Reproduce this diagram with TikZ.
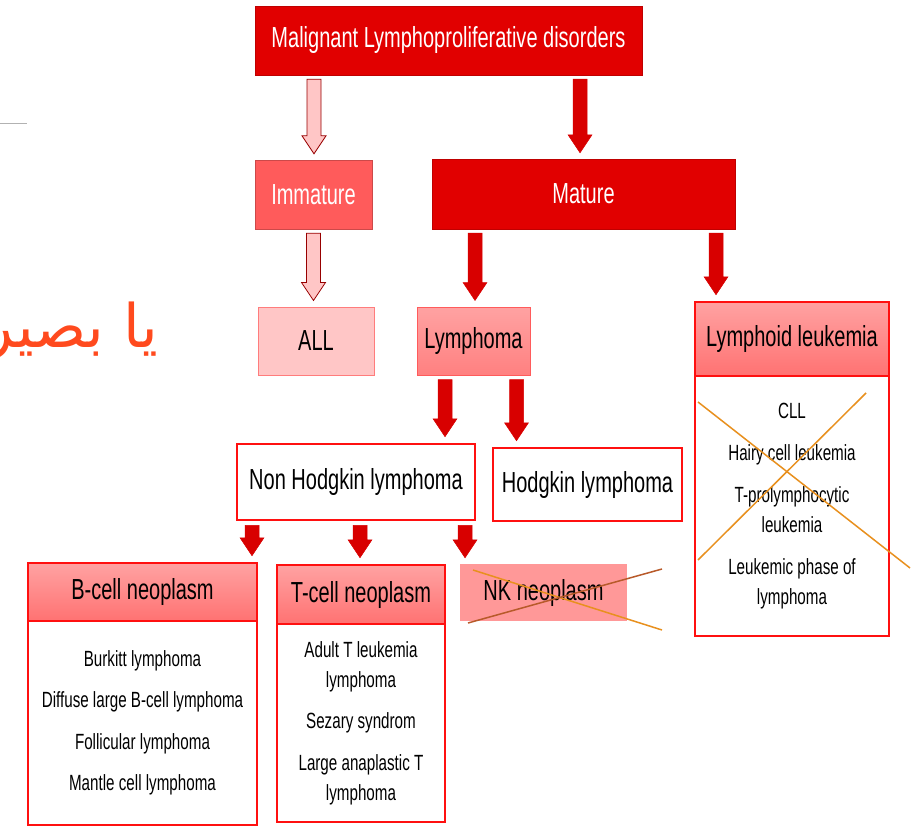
\documentclass[tikz,border=0pt]{standalone}
\usepackage{fontspec}
\setmainfont{Liberation Sans}[FakeStretch=0.69]
\newfontfamily\arabicfont[Script=Arabic]{DejaVu Sans}
\TeXXeTstate=1
\usepackage{tikz}
\usepackage{xcolor}
\usetikzlibrary{calc}

\definecolor{deepred}{HTML}{E10000}
\definecolor{arrred}{HTML}{D80000}
\definecolor{salmon}{HTML}{FF5B5B}
\definecolor{palepink}{HTML}{FFC6C6}
\definecolor{rosetop}{HTML}{FFA2A2}
\definecolor{rosebot}{HTML}{FF7272}
\definecolor{boxred}{HTML}{FF1010}
\definecolor{crossorange}{HTML}{E8901E}
\definecolor{crossbrown}{HTML}{B85A2A}
\definecolor{arorange}{HTML}{FF4A1E}

\begin{document}
\begin{tikzpicture}[x=1pt,y=-1pt,
  bigfont/.style={font=\fontsize{29}{34}\selectfont},
  smallfont/.style={font=\fontsize{22}{30}\selectfont},
  box/.style={rectangle,inner sep=0pt,bigfont},
  redbox/.style={box,fill=deepred,draw=deepred!85!black,text=white},
  outbox/.style={box,fill=white,draw=boxred,line width=2.5pt},
  headbox/.style={box,top color=rosetop,bottom color=rosebot,draw=boxred,line width=2.5pt},
  bodybox/.style={rectangle,inner sep=0pt,fill=white,draw=boxred,line width=2pt,align=center,smallfont},
  barr/.style={to path={let \p1=(\tikztostart), \p2=(\tikztotarget) in
    (\x1-7pt,\y1-4pt) -- (\x1+7pt,\y1-4pt) -- (\x1+7pt,\y2+24pt) -- (\x1+12pt,\y2+24pt)
    -- (\x1,\y2+6pt) -- (\x1-12pt,\y2+24pt) -- (\x1-7pt,\y2+24pt) -- cycle}},
  darkarr/.style={barr,fill=arrred,draw=arrred,line width=0.5pt},
  lightarr/.style={barr,fill=palepink,draw=arrred!70!black,line width=0.8pt},
  crossline/.style={line width=1.5pt}]
\useasboundingbox (0,0) rectangle (921,827);

% left margin leftovers
\draw[gray!60,line width=1pt] (0,123) -- (27,123);
\node (ar) at (162,347) [anchor=base east,text=arorange,font=\arabicfont\fontsize{60}{70}\selectfont] {\beginR يا بصير\endR};

% top levels
\node (top) at (448.5,40.5) [redbox,minimum width=387,minimum height=69] {Malignant Lymphoproliferative disorders};
\node (imm) at (313.5,194.5) [box,fill=salmon,draw=salmon!80!black,text=white,minimum width=117,minimum height=69] {Immature};
\node (mat) at (583.5,194) [redbox,minimum width=303,minimum height=70] {Mature};
\draw[lightarr] ([xshift=-134.5]top.south) to (imm.north);
\draw[darkarr] ([xshift=131.5]top.south) to (mat.north);

\node (all) at (316,341) [box,fill=palepink,draw=salmon!80,line width=1pt,minimum width=116,minimum height=68] {ALL};
\node (lym) at (473.5,341) [box,top color=rosetop,bottom color=rosebot!90,draw=salmon,line width=1pt,minimum width=113,minimum height=68] {Lymphoma};
\node (llh) at (792,339) [headbox,minimum width=194,minimum height=74] {Lymphoid leukemia};
\node (llb) at (792,506) [bodybox,minimum width=194,minimum height=260] {CLL\\[12pt]Hairy cell leukemia\\[12pt]T-prolymphocytic\\leukemia\\[12pt]Leukemic phase of\\lymphoma};
\draw[lightarr] (imm.south) to (all.north);
\draw[darkarr] ([xshift=-108.5]mat.south) to (lym.north);
\draw[darkarr] ([xshift=132.5]mat.south) to (llh.north);

\node (nhl) at (356,482) [outbox,minimum width=238,minimum height=76] {Non Hodgkin lymphoma};
\node (hod) at (587.5,484.5) [outbox,minimum width=189,minimum height=73] {Hodgkin lymphoma};
\draw[darkarr] ([xshift=-28.5]lym.south) to (nhl.north);
\draw[darkarr] ([xshift=43]lym.south) to (hod.north);

% neoplasms
\node (bh) at (142.5,592) [headbox,minimum width=229,minimum height=58] {B-cell neoplasm};
\node (bb) at (142.5,723) [bodybox,minimum width=229,minimum height=204] {Burkitt lymphoma\\[11.5pt]Diffuse large B-cell lymphoma\\[11.5pt]Follicular lymphoma\\[11.5pt]Mantle cell lymphoma};
\node (th) at (361,594.5) [headbox,minimum width=168,minimum height=59] {T-cell neoplasm};
\node (tb) at (361,723) [bodybox,minimum width=168,minimum height=198] {Adult T leukemia\\lymphoma\\[11.5pt]Sezary syndrom\\[11.5pt]Large anaplastic T\\lymphoma};
\node (nk) at (543.5,592.5) [box,fill=rosetop!80!rosebot,minimum width=167,minimum height=57] {NK neoplasm};
\draw[darkarr] ([xshift=-104]nhl.south) to (bh.north);
\draw[darkarr] ([xshift=4]nhl.south) to (th.north);
\draw[darkarr] ([xshift=109]nhl.south) to (nk.north);

% crossings out
\draw[crossline,crossorange] (698,402) -- (910,568);
\draw[crossline,crossorange] (698,560) -- (866,393);
\draw[crossline,crossorange] (473,570) -- (662,630);
\draw[crossline,crossbrown] (468,623) -- (662,569);
\end{tikzpicture}
\end{document}
